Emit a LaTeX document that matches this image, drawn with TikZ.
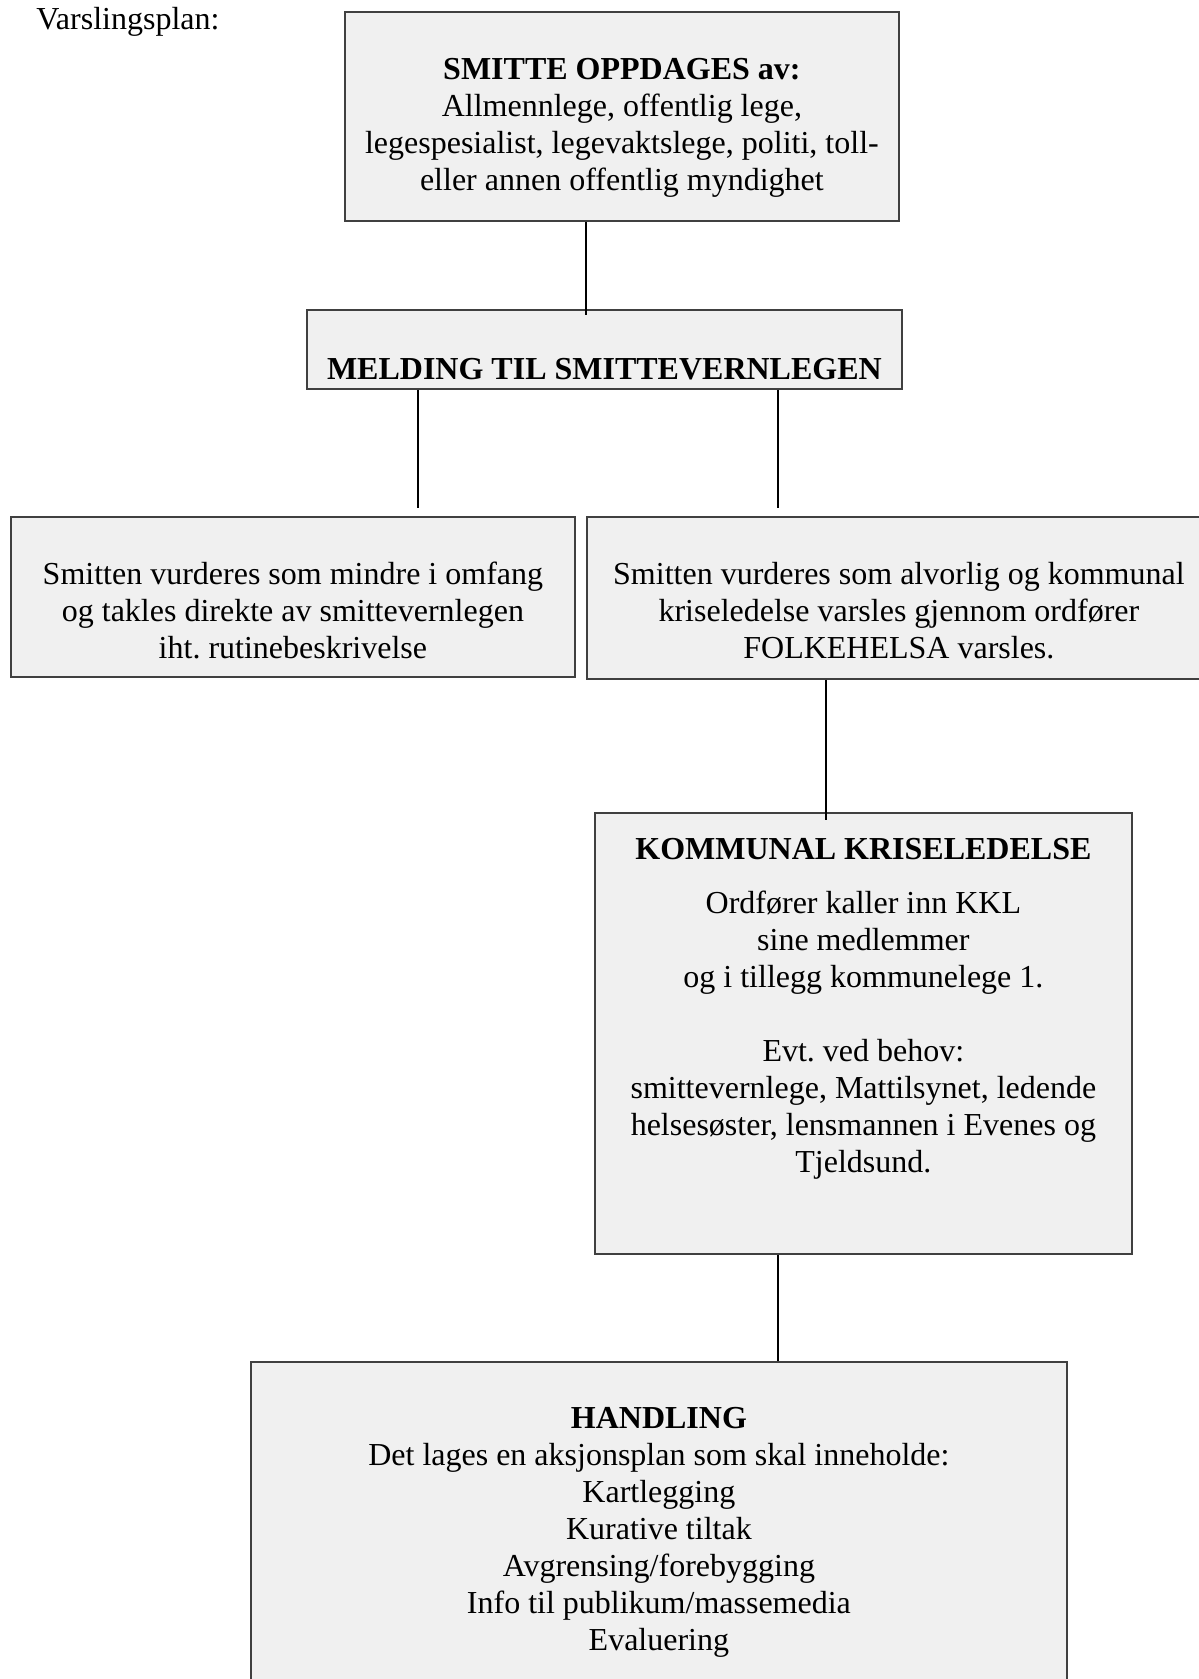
\documentclass[tikz,border=0pt]{standalone}
\usepackage{fontspec}
\setmainfont{Liberation Serif}
\usetikzlibrary{positioning}
\frenchspacing

\begin{document}
\begin{tikzpicture}[
  x=0.5pt, y=-0.5pt,
  box/.style={draw=black!75, fill=black!6, line width=0.9pt, anchor=north west,
              inner sep=0pt},
  txt/.style={align=center, inner sep=0pt, anchor=north,
              font=\fontsize{16pt}{18.5pt}\selectfont},
  conn/.style={line width=0.7pt}
]
  \useasboundingbox (0,0) rectangle (1198,1679);

  \node[txt, anchor=north west] (title) at (36,7) {Varslingsplan:};

  % boxes
  \node[box, minimum width=277pt, minimum height=104.5pt] (smitte) at (344,11) {};
  \node[box, minimum width=297.5pt, minimum height=39.5pt] (melding) at (306,309) {};
  \node[box, minimum width=282pt, minimum height=80pt] (mindre) at (10,516) {};
  \node[box, minimum width=312pt, minimum height=81pt] (alvorlig) at (586,516) {};
  \node[box, minimum width=268.5pt, minimum height=220.5pt] (kkl) at (594,812) {};
  \node[box, minimum width=408pt, minimum height=169.5pt] (handling) at (250,1361) {};

  % texts
  \node[txt, below=23.5pt of smitte.north] (smittetxt)
    {\textbf{SMITTE OPPDAGES av:}\\ Allmennlege, offentlig lege,\\
     legespesialist, legevaktslege, politi, toll-\\ eller annen offentlig myndighet};
  \node[txt, below=24.5pt of melding.north] (meldingtxt)
    {\textbf{MELDING TIL SMITTEVERNLEGEN}};
  \node[txt, below=23pt of mindre.north] (mindretxt)
    {Smitten vurderes som mindre i omfang\\ og takles direkte av smittevernlegen\\
     iht. rutinebeskrivelse};
  \node[txt, below=23pt of alvorlig.north] (alvorligtxt)
    {Smitten vurderes som alvorlig og kommunal\\ kriseledelse varsles gjennom ordfører\\
     FOLKEHELSA varsles.};
  \node[txt, below=13pt of kkl.north] (kkltxt)
    {\textbf{KOMMUNAL KRISELEDELSE}\\[8.5pt] Ordfører kaller inn KKL\\ sine medlemmer\\
     og i tillegg kommunelege 1.\\[18.5pt] Evt. ved behov:\\
     smittevernlege, Mattilsynet, ledende\\ helsesøster, lensmannen i Evenes og\\
     Tjeldsund.};
  \node[txt, below=23pt of handling.north] (handlingtxt)
    {\textbf{HANDLING}\\ Det lages en aksjonsplan som skal inneholde:\\ Kartlegging\\
     Kurative tiltak\\ Avgrensing/forebygging\\ Info til publikum/massemedia\\ Evaluering};

  % connectors
  \coordinate (xa) at (586,0);
  \coordinate (xb) at (418,0);
  \coordinate (xc) at (778,0);
  \coordinate (xd) at (826,0);
  \draw[conn, shorten >=-3pt] (smitte.south -| xa) -- (melding.north -| xa);
  \draw[conn, shorten >=4pt] (melding.south -| xb) -- (mindre.north -| xb);
  \draw[conn, shorten >=4pt] (melding.south -| xc) -- (alvorlig.north -| xc);
  \draw[conn, shorten >=-4pt] (alvorlig.south -| xd) -- (kkl.north -| xd);
  \draw[conn] (kkl.south -| xc) -- (handling.north -| xc);
\end{tikzpicture}
\end{document}
